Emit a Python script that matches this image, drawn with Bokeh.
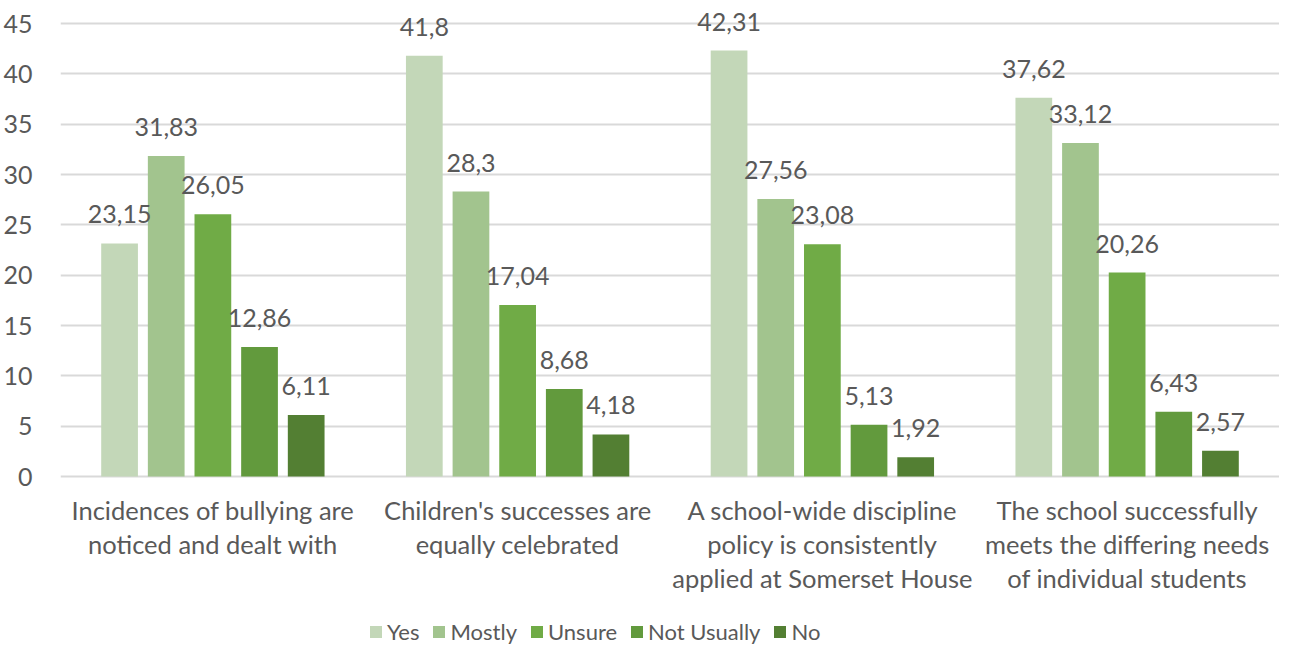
from bokeh.plotting import figure
from bokeh.models import (ColumnDataSource, FactorRange, LabelSet, Legend, LegendItem,
                          FixedTicker, Range1d)
from bokeh.core.properties import value
from bokeh.transform import dodge
from bokeh.embed import file_html
from bokeh.resources import INLINE

# ---- data ----
categories = [
    "Incidences of bullying are\nnoticed and dealt with",
    "Children's successes are\nequally celebrated",
    "A school-wide discipline\npolicy is consistently\napplied at Somerset House",
    "The school successfully\nmeets the differing needs\nof individual students",
]
series_names = ["Yes", "Mostly", "Unsure", "Not Usually", "No"]
yes_vals = [23.15, 41.8, 42.31, 37.62]
mostly_vals = [31.83, 28.3, 27.56, 33.12]
unsure_vals = [26.05, 17.04, 23.08, 20.26]
not_usually_vals = [12.86, 8.68, 5.13, 6.43]
no_vals = [6.11, 4.18, 1.92, 2.57]
series_values = [yes_vals, mostly_vals, unsure_vals, not_usually_vals, no_vals]
y_ticks = [0, 5, 10, 15, 20, 25, 30, 35, 40, 45]

# ---- style / layout ----
colors = ["#C3D7B8", "#A2C48E", "#70AB46", "#629A3D", "#537F33"]
FONT = "Lato"
TEXT_COLOR = "#595959"
GRID_COLOR = "#D9D9D9"
step = 47.0 / 307.0
bar_w = 37.0 / 307.0
W, H = 1279, 645
LEFT = 51
TOP_PX, ZERO_PX = 23, 476          # pixel rows of the top tick and of zero
ppu = (ZERO_PX - TOP_PX) / (y_ticks[-1] - y_ticks[0])
y_top = y_ticks[-1] + TOP_PX / ppu
y_bot = y_ticks[0] - (H - ZERO_PX) / ppu
LINE1, LINE_STEP = 33, 34

p = figure(
    width=W, height=H,
    x_range=FactorRange(factors=categories, range_padding=0),
    y_range=Range1d(y_bot, y_top),
    output_backend="svg", toolbar_location=None,
    min_border_left=LEFT, min_border_right=0, min_border_top=0, min_border_bottom=0,
)
p.outline_line_color = None
p.background_fill_color = "white"
p.border_fill_color = "white"

items = []
for i, (name, vals) in enumerate(zip(series_names, series_values)):
    off = (i - 2) * step
    src = ColumnDataSource(dict(
        cat=categories, val=vals,
        lab=[("%g" % v).replace(".", ",") for v in vals],
    ))
    r = p.vbar(x=dodge("cat", off, range=p.x_range), top="val", width=bar_w, bottom=0,
               source=src, fill_color=colors[i], line_color=None)
    items.append(LegendItem(label=name, renderers=[r]))
    labels = LabelSet(x=dodge("cat", off, range=p.x_range), y="val", text="lab", source=src,
                      y_offset=29, text_align="center", text_baseline="middle",
                      text_font=value(FONT), text_font_size=value("25px"),
                      text_color=TEXT_COLOR)
    p.add_layout(labels)

# category labels (one centred label per line, under the zero line)
rows = dict(cat=[], line=[], zero=[], dy=[])
for c in categories:
    for k, line in enumerate(c.split("\n")):
        rows["cat"].append(c)
        rows["line"].append(line)
        rows["zero"].append(0)
        rows["dy"].append(-(LINE1 + k * LINE_STEP))
cat_labels = LabelSet(x="cat", y="zero", text="line", y_offset="dy",
                      source=ColumnDataSource(rows),
                      text_align="center", text_baseline="middle",
                      text_font=value(FONT), text_font_size=value("25.5px"),
                      text_color=TEXT_COLOR)
p.add_layout(cat_labels)

# axes
p.xaxis.visible = False
p.yaxis.ticker = FixedTicker(ticks=y_ticks)
p.yaxis.axis_line_color = None
p.yaxis.major_tick_line_color = None
p.yaxis.minor_tick_line_color = None
p.yaxis.major_label_text_font = FONT
p.yaxis.major_label_text_font_size = "25px"
p.yaxis.major_label_text_color = TEXT_COLOR
p.yaxis.major_label_standoff = 22

p.xgrid.grid_line_color = None
p.ygrid.ticker = FixedTicker(ticks=y_ticks)
p.ygrid.grid_line_color = GRID_COLOR
p.ygrid.grid_line_width = 2

legend = Legend(items=items, orientation="horizontal", location=(308, 0),
                label_text_font=FONT, label_text_font_size="22px",
                label_text_color=TEXT_COLOR, glyph_width=15, glyph_height=15,
                label_standoff=4, spacing=12, border_line_color=None,
                background_fill_alpha=0, margin=0, padding=0)
p.add_layout(legend, "center")

open("out.html", "w").write(file_html(p, INLINE))
